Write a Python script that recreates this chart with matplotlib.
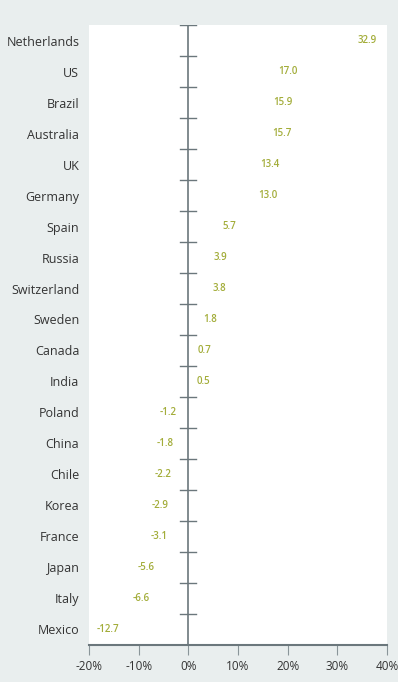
import matplotlib.pyplot as plt
from matplotlib.ticker import FuncFormatter

countries = ['Netherlands', 'US', 'Brazil', 'Australia', 'UK', 'Germany', 'Spain',
             'Russia', 'Switzerland', 'Sweden', 'Canada', 'India', 'Poland', 'China',
             'Chile', 'Korea', 'France', 'Japan', 'Italy', 'Mexico']
values = [32.9, 17.0, 15.9, 15.7, 13.4, 13.0, 5.7, 3.9, 3.8, 1.8, 0.7, 0.5,
          -1.2, -1.8, -2.2, -2.9, -3.1, -5.6, -6.6, -12.7]
x_ticks = [-20, -10, 0, 10, 20, 30, 40]

bg = '#e9eeee'
olive = '#a3ad3a'
axis_grey = '#6b777c'
text_dark = '#333333'

plt.rcParams['font.family'] = ['Open Sans', 'DejaVu Sans']

fig = plt.figure(figsize=(3.98, 6.82), dpi=100, facecolor=bg)
ax = fig.add_axes([0.2236, 0.0543, 0.7487, 0.909])
ax.set_facecolor('white')

ypos = list(range(len(countries)))
bars = ax.barh(ypos, values, height=0.8, color='none')
ax.bar_label(bars, labels=[f'{v:.1f}' for v in values], padding=4,
             color=olive, fontsize=7, fontweight='semibold')

ax.set_ylim(len(countries) - 0.5, -0.5)
ax.set_xlim(-20, 40)

# vertical zero line with ticks between categories
ax.axvline(0, color=axis_grey, lw=1.2)
for b in range(len(countries)):
    ax.plot([-1.6, 1.6], [b - 0.5, b - 0.5], color=axis_grey, lw=1.0)

for s in ['top', 'right', 'left']:
    ax.spines[s].set_visible(False)
ax.spines['bottom'].set_color(axis_grey)
ax.spines['bottom'].set_linewidth(1.5)

ax.set_yticks(ypos)
ax.set_yticklabels(countries, fontsize=9, color=text_dark)
ax.tick_params(axis='y', length=0, pad=7)

ax.set_xticks(x_ticks)
ax.xaxis.set_major_formatter(FuncFormatter(lambda v, p: f'{v:.0f}%'))
ax.tick_params(axis='x', length=7, width=0.8, color='#8a9599', labelsize=8.5,
               labelcolor=text_dark, pad=4)

fig.savefig('out.png', dpi=100, facecolor=bg)
